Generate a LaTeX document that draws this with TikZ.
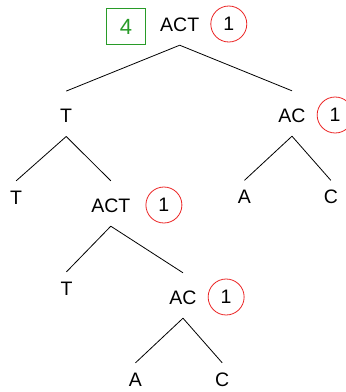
\documentclass[tikz,border=0pt]{standalone}
\usepackage{fontspec}
\setmainfont{Liberation Sans}
\usetikzlibrary{positioning}

\definecolor{cntred}{RGB}{235,35,35}
\definecolor{sumgreen}{RGB}{40,155,40}

\tikzstyle{split} = [anchor=base, inner sep=0pt, text height=31pt, text depth=14pt]
\tikzstyle{leaf} = [anchor=base, inner sep=0pt, text height=23pt, text depth=0pt]
\tikzstyle{tally} = [circle, draw=cntred, line width=.8pt, minimum size=36pt, inner sep=0pt]
\tikzstyle{sumbox} = [rectangle, draw=sumgreen, line width=.8pt, minimum width=39pt, minimum height=36.5pt, text=sumgreen, font=\fontsize{22}{26}\selectfont]
\tikzstyle{edge} = [line width=.8pt]

\begin{document}
\begin{tikzpicture}[x=1pt, y=-1pt, font=\fontsize{19.5}{23}\selectfont]
\useasboundingbox (0,0) rectangle (346,392);

% root
\node (act) [split] at (179.7,31) {ACT};
\node (actn) [tally, right=11pt of act.base east, yshift=7pt] {1};
\node (actsum) [sumbox, left=14pt of act.base west, yshift=4.5pt] {4};

% first split
\node (t) [split] at (66.2,122.3) {T};
\node (ac) [split] at (292,122) {AC};
\node (acn) [tally, right=11pt of ac.base east, yshift=7pt] {1};
\draw [edge] (act.south) -- (t.north);
\draw [edge] (act.south) -- (ac.north);

% below T
\node (tl) [leaf] at (16.2,204) {T};
\node (act2) [split] at (110.8,212) {ACT};
\node (act2n) [tally, right=15pt of act2.base east, yshift=7pt] {1};
\draw [edge] (t.south) -- (tl.north);
\draw [edge] (t.south) -- (act2.north);

% below AC
\node (a) [leaf] at (244.5,203.5) {A};
\node (c) [leaf] at (330.8,203.5) {C};
\draw [edge] (ac.south) -- (a.north);
\draw [edge] (ac.south) -- (c.north);

% below ACT
\node (t3) [leaf] at (66.5,295) {T};
\node (ac3) [split] at (183,304) {AC};
\node (ac3n) [tally, right=11pt of ac3.base east, yshift=7pt] {1};
\draw [edge] (act2.south) -- (t3.north);
\draw [edge] (act2.south) -- (ac3.north);

\node (a4) [leaf] at (135.5,386) {A};
\node (c4) [leaf] at (222.2,386) {C};
\draw [edge] (ac3.south) -- (a4.north);
\draw [edge] (ac3.south) -- (c4.north);

\end{tikzpicture}
\end{document}
